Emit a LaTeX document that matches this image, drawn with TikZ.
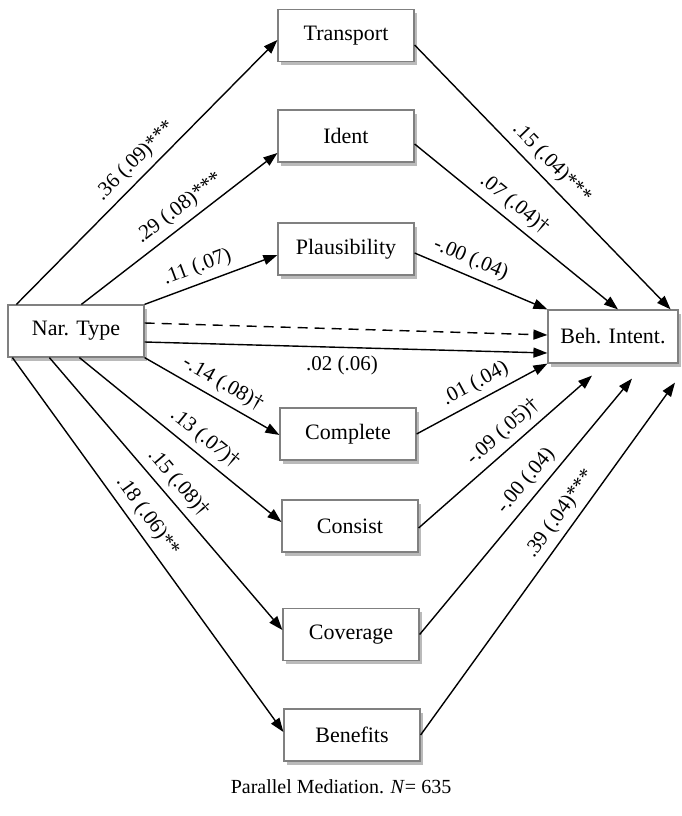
\documentclass[tikz,border=0pt]{standalone}
\usepackage{fontspec}
\setmainfont{Liberation Serif}
\usetikzlibrary{arrows.meta,shadows}
\begin{document}
\begin{tikzpicture}[x=1pt,y=-1pt,
  font=\fontsize{21}{25}\selectfont,
  box/.style={draw=black!50, line width=1.2pt, fill=white, minimum width=136pt, minimum height=52pt,
    inner sep=0pt, font=\fontsize{22}{26}\selectfont,
    drop shadow={shadow xshift=2.5pt, shadow yshift=-3.5pt, fill=black!60, opacity=0.45}},
  conn/.style={line width=1.4pt, -{Triangle[length=14pt,width=10pt]}},
  lab/.style={sloped, above, inner sep=6pt}
]
\useasboundingbox (0,0) rectangle (681,816);
\node[box] (nar) at (76,331) {Nar. Type};
\node[box, minimum width=130pt, minimum height=53pt] (beh) at (613,336.5) {Beh. Intent.};
\node[box] (tr) at (346,35.5) {Transport};
\node[box] (id) at (346,136) {Ident};
\node[box] (pl) at (346,249) {Plausibility};
\node[box] (co) at (348,434) {Complete};
\node[box] (cs) at (350,526) {Consist};
\node[box] (cv) at (351,634.5) {Coverage};
\node[box] (bn) at (352,735) {Benefits};
\node[font=\fontsize{20}{24}\selectfont] (cap) at (341,787) {Parallel Mediation. \textit{N}= 635};

% Nar. Type to mediators
\draw[conn] ([xshift=9pt]nar.north west) -- ([yshift=-4.5pt]tr.west) node[lab, pos=0.5] {.36 (.09)***};
\draw[conn] ([xshift=74pt]nar.north west) -- ([yshift=-17pt]id.west) node[lab, pos=0.55] {.29 (.08)***};
\draw[conn] (nar.north east) -- ([yshift=-6pt]pl.west) node[lab, pos=0.44] {.11 (.07)};
\draw[conn] (nar.south east) -- ([yshift=-1pt]co.west) node[lab, pos=0.52] {-.14 (.08)†};
\draw[conn] ([xshift=72pt]nar.south west) -- ([yshift=4pt]cs.west) node[lab, pos=0.57] {.13 (.07)†};
\draw[conn] ([xshift=42pt]nar.south west) -- ([yshift=4.5pt]cv.west) node[lab, pos=0.5] {.15 (.08)†};
\draw[conn] ([xshift=5pt]nar.south west) -- ([yshift=3pt]bn.west) node[lab, pos=0.45] {.18 (.06)**};

% direct paths
\draw[conn, dash pattern=on 10pt off 7pt] ([yshift=8pt]nar.east) -- ([yshift=1.5pt]beh.west);
\draw[conn] ([yshift=-11pt]nar.east) -- ([yshift=-16.5pt]beh.west) node[below, pos=0.49, inner sep=8pt] {.02 (.06)};

% mediators to Beh. Intent.
\draw[conn] ([yshift=-9.5pt]tr.east) -- ([xshift=-8pt]beh.north east) node[lab, pos=0.49] {.15 (.04)***};
\draw[conn] ([yshift=-8pt]id.east) -- ([xshift=5pt]beh.north) node[lab, pos=0.44] {.07 (.04)†};
\draw[conn] ([yshift=-4pt]pl.east) -- (beh.north west) node[lab, pos=0.375] {-.00 (.04)};
\draw[conn] (co.east) -- (beh.south west) node[lab, pos=0.51] {.01 (.04)};
\draw[conn] ([yshift=-2pt]cs.east) -- ([xshift=-21pt,yshift=-12pt]beh.south) node[lab, pos=0.55] {-.09 (.05)†};
\draw[conn] (cv.east) -- ([xshift=19pt,yshift=-15pt]beh.south) node[lab, pos=0.56] {-.00 (.04)};
\draw[conn] (bn.east) -- ([xshift=62pt,yshift=-19pt]beh.south) node[lab, pos=0.6] {.39 (.04)***};
\end{tikzpicture}
\end{document}
